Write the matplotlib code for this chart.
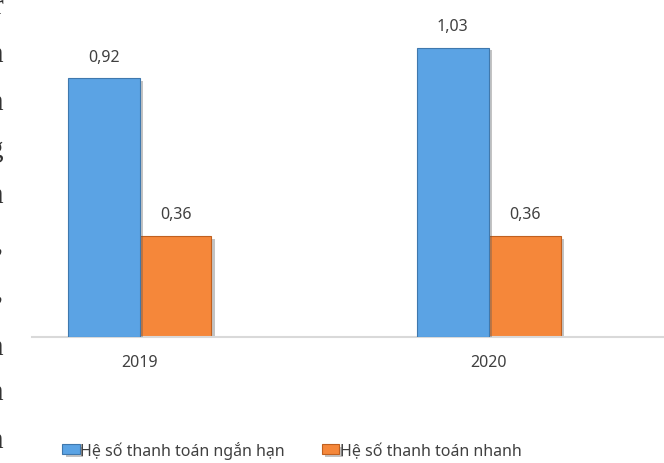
import matplotlib.pyplot as plt
import matplotlib.patheffects as pe
import numpy as np

years = ['2019', '2020']
ngan_han = [0.92, 1.03]
nhanh = [0.36, 0.36]
series_names = ['Hệ số thanh toán ngắn hạn', 'Hệ số thanh toán nhanh']

# clipped characters from the neighbouring paragraph on the left edge
edge_chars = ['r', 'n', 'n', 'g', 'n', ',', ',', 'n', 'n', 'n']
edge_baselines = [14, 62, 110, 157, 203, 251, 299, 355, 400, 448]

plt.rcParams['font.family'] = ['Noto Sans', 'DejaVu Sans']
txt_color = '#404040'

fig = plt.figure(figsize=(6.64, 4.64), dpi=100)
W, H = 664, 464
ax = fig.add_axes([32 / W, (H - 338) / H, (W - 32) / W, 338 / H])

x = np.arange(len(years))
w = 0.206
shadow = [pe.SimplePatchShadow(offset=(2.5, -2), alpha=0.35, shadow_rgbFace='#555555'), pe.Normal()]
b1 = ax.bar(x - w / 2, ngan_han, w, color='#5ba3e4', edgecolor='#3f78ad', linewidth=0.8,
            label=series_names[0], zorder=3)
b2 = ax.bar(x + w / 2, nhanh, w, color='#f5873a', edgecolor='#c0601f', linewidth=0.8,
            label=series_names[1], zorder=2)
for bars in (b1, b2):
    for r in bars:
        r.set_path_effects(shadow)

for bars, vals in ((b1, ngan_han), (b2, nhanh)):
    for r, v in zip(bars, vals):
        ax.annotate(f'{v:.2f}'.replace('.', ','), (r.get_x() + r.get_width() / 2, v),
                    xytext=(0, 10), textcoords='offset points', ha='center', va='bottom',
                    fontsize=11.5, color=txt_color)

ax.set_xlim(-0.308, 1.502)
ax.set_ylim(0, 338 / 281.0)
ax.set_xticks(x)
ax.set_xticklabels(years, fontsize=11.5, color=txt_color)
ax.tick_params(axis='x', length=0, pad=12)
ax.set_yticks([])
for s in ['top', 'right', 'left']:
    ax.spines[s].set_visible(False)
ax.spines['bottom'].set_color('#d9d9d9')
ax.spines['bottom'].set_linewidth(1.5)

leg = fig.legend(handles=[b1, b2], labels=series_names, loc='center',
                 bbox_to_anchor=(292 / W, 1 - 451 / H), ncol=2, frameon=False,
                 fontsize=11.5, handlelength=1.1, handleheight=0.6, handletextpad=0.05,
                 columnspacing=2.3, labelcolor=txt_color)

for ch, yb in zip(edge_chars, edge_baselines):
    fig.text(3 / W, 1 - yb / H, ch, ha='right', va='baseline', fontsize=21,
             family='Liberation Serif', color='#333333')

fig.savefig('out.png', dpi=100)
